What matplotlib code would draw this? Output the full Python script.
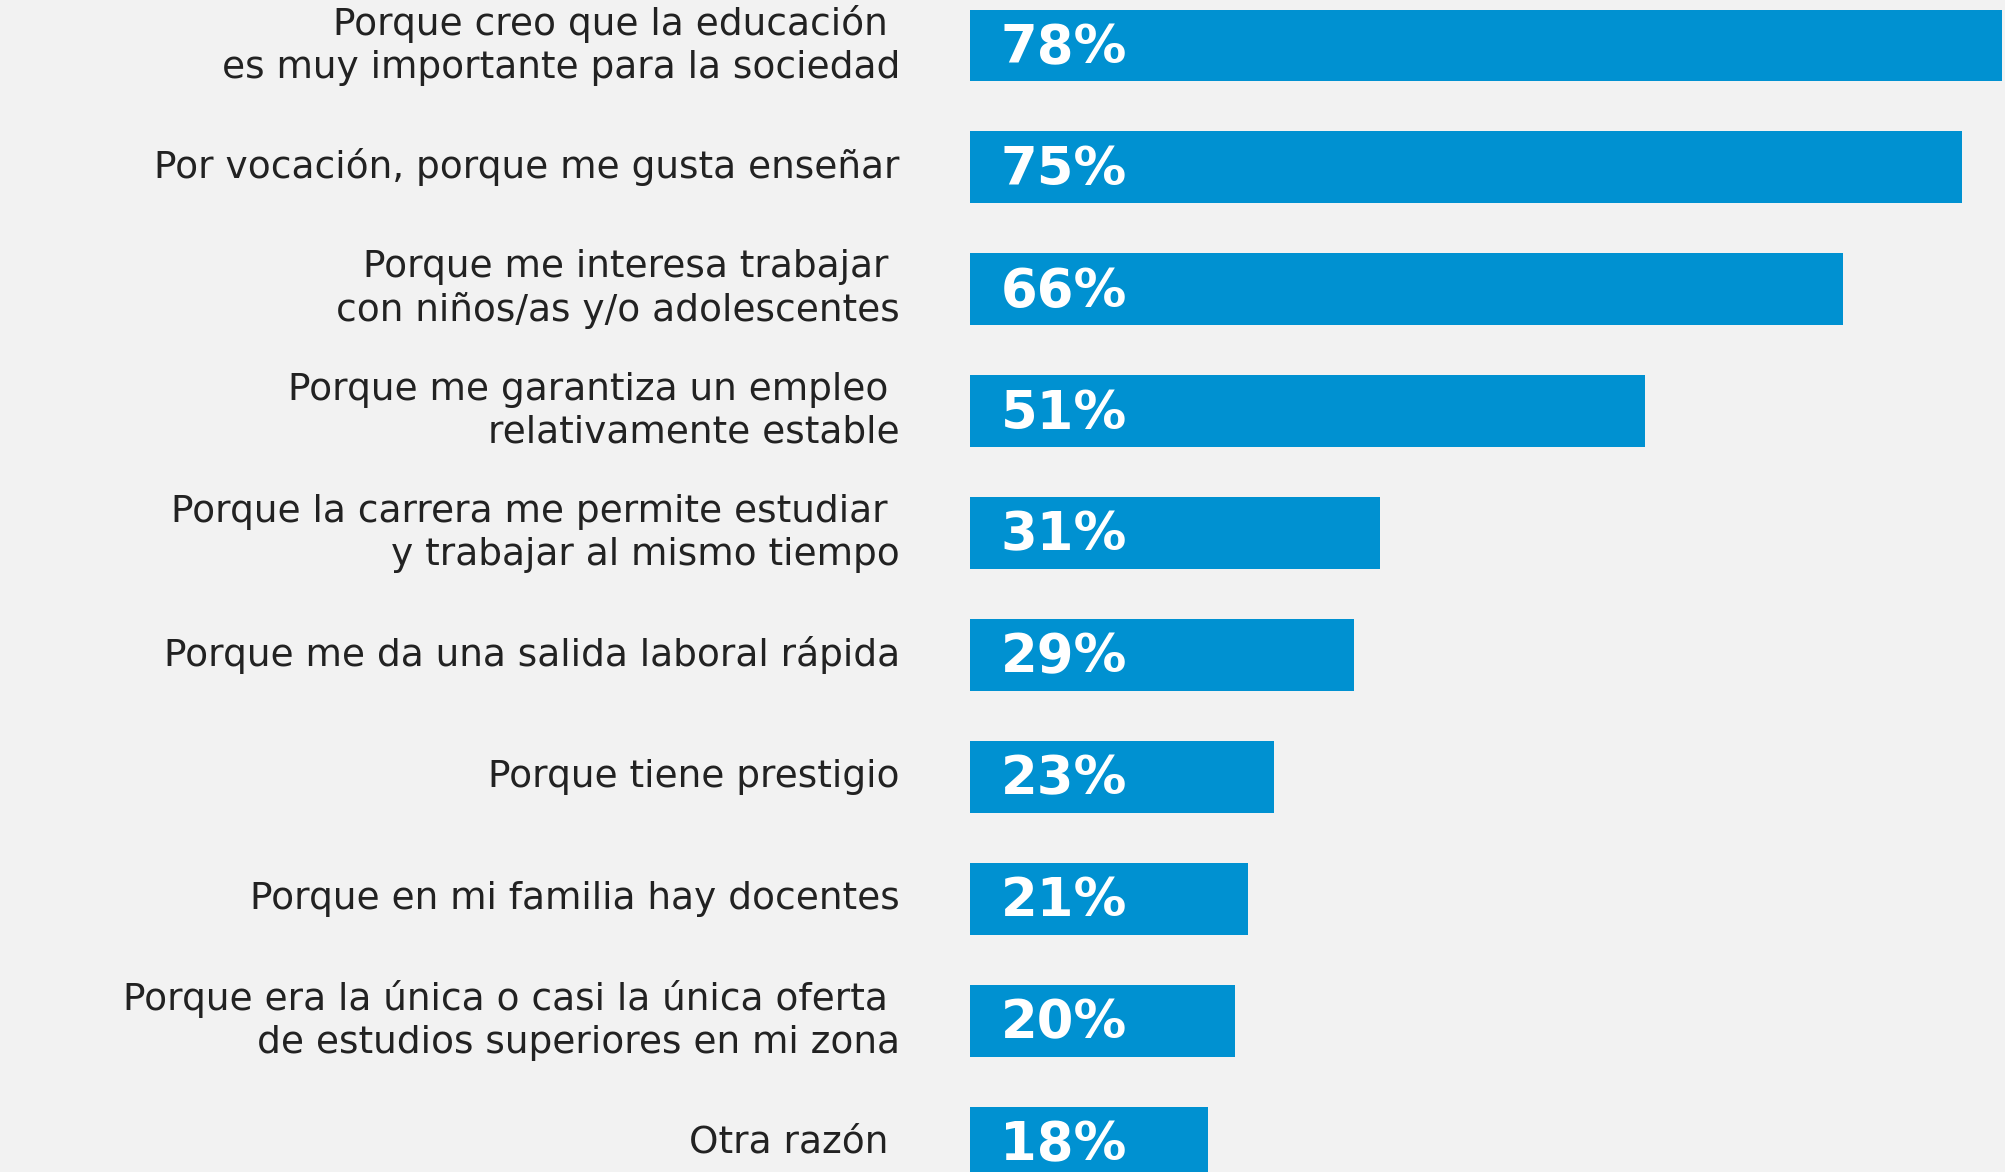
import matplotlib
matplotlib.use("Agg")
import matplotlib.pyplot as plt

# motivos para elegir la docencia (% de respuestas)
labels = [
    "Porque creo que la educación \nes muy importante para la sociedad",
    "Por vocación, porque me gusta enseñar",
    "Porque me interesa trabajar \ncon niños/as y/o adolescentes",
    "Porque me garantiza un empleo \nrelativamente estable",
    "Porque la carrera me permite estudiar \ny trabajar al mismo tiempo",
    "Porque me da una salida laboral rápida",
    "Porque tiene prestigio",
    "Porque en mi familia hay docentes",
    "Porque era la única o casi la única oferta \nde estudios superiores en mi zona",
    "Otra razón ",
]
values = [78, 75, 66, 51, 31, 29, 23, 21, 20, 18]

BG = "#f2f2f2"
BLUE = "#0091d1"

fig = plt.figure(figsize=(20.06, 11.72), dpi=100, facecolor=BG)
ax = fig.add_axes([0, 0, 1, 1])
ax.set_facecolor(BG)

pos = list(range(len(values)))
ax.barh(pos, values, height=0.59, color=BLUE)

for y, v, lab in zip(pos, values, labels):
    ax.text(2.3, y + 0.02, f"{v}%", color="white", fontsize=38, fontweight="bold",
            va="center", ha="left")
    ax.text(-5.3, y, lab, color="#222222", fontsize=27, va="center",
            ha="right", multialignment="right", linespacing=1.25)

# pixel layout: bars start at x=970px, 13.23 px per percent, 121.9 px pitch
ax.set_xlim(-970 / 13.23, (2006 - 970) / 13.23)
ax.set_ylim((1172 - 45.5) / 121.9, -45.5 / 121.9)
ax.axis("off")

fig.savefig("out.png", dpi=100, facecolor=BG)
